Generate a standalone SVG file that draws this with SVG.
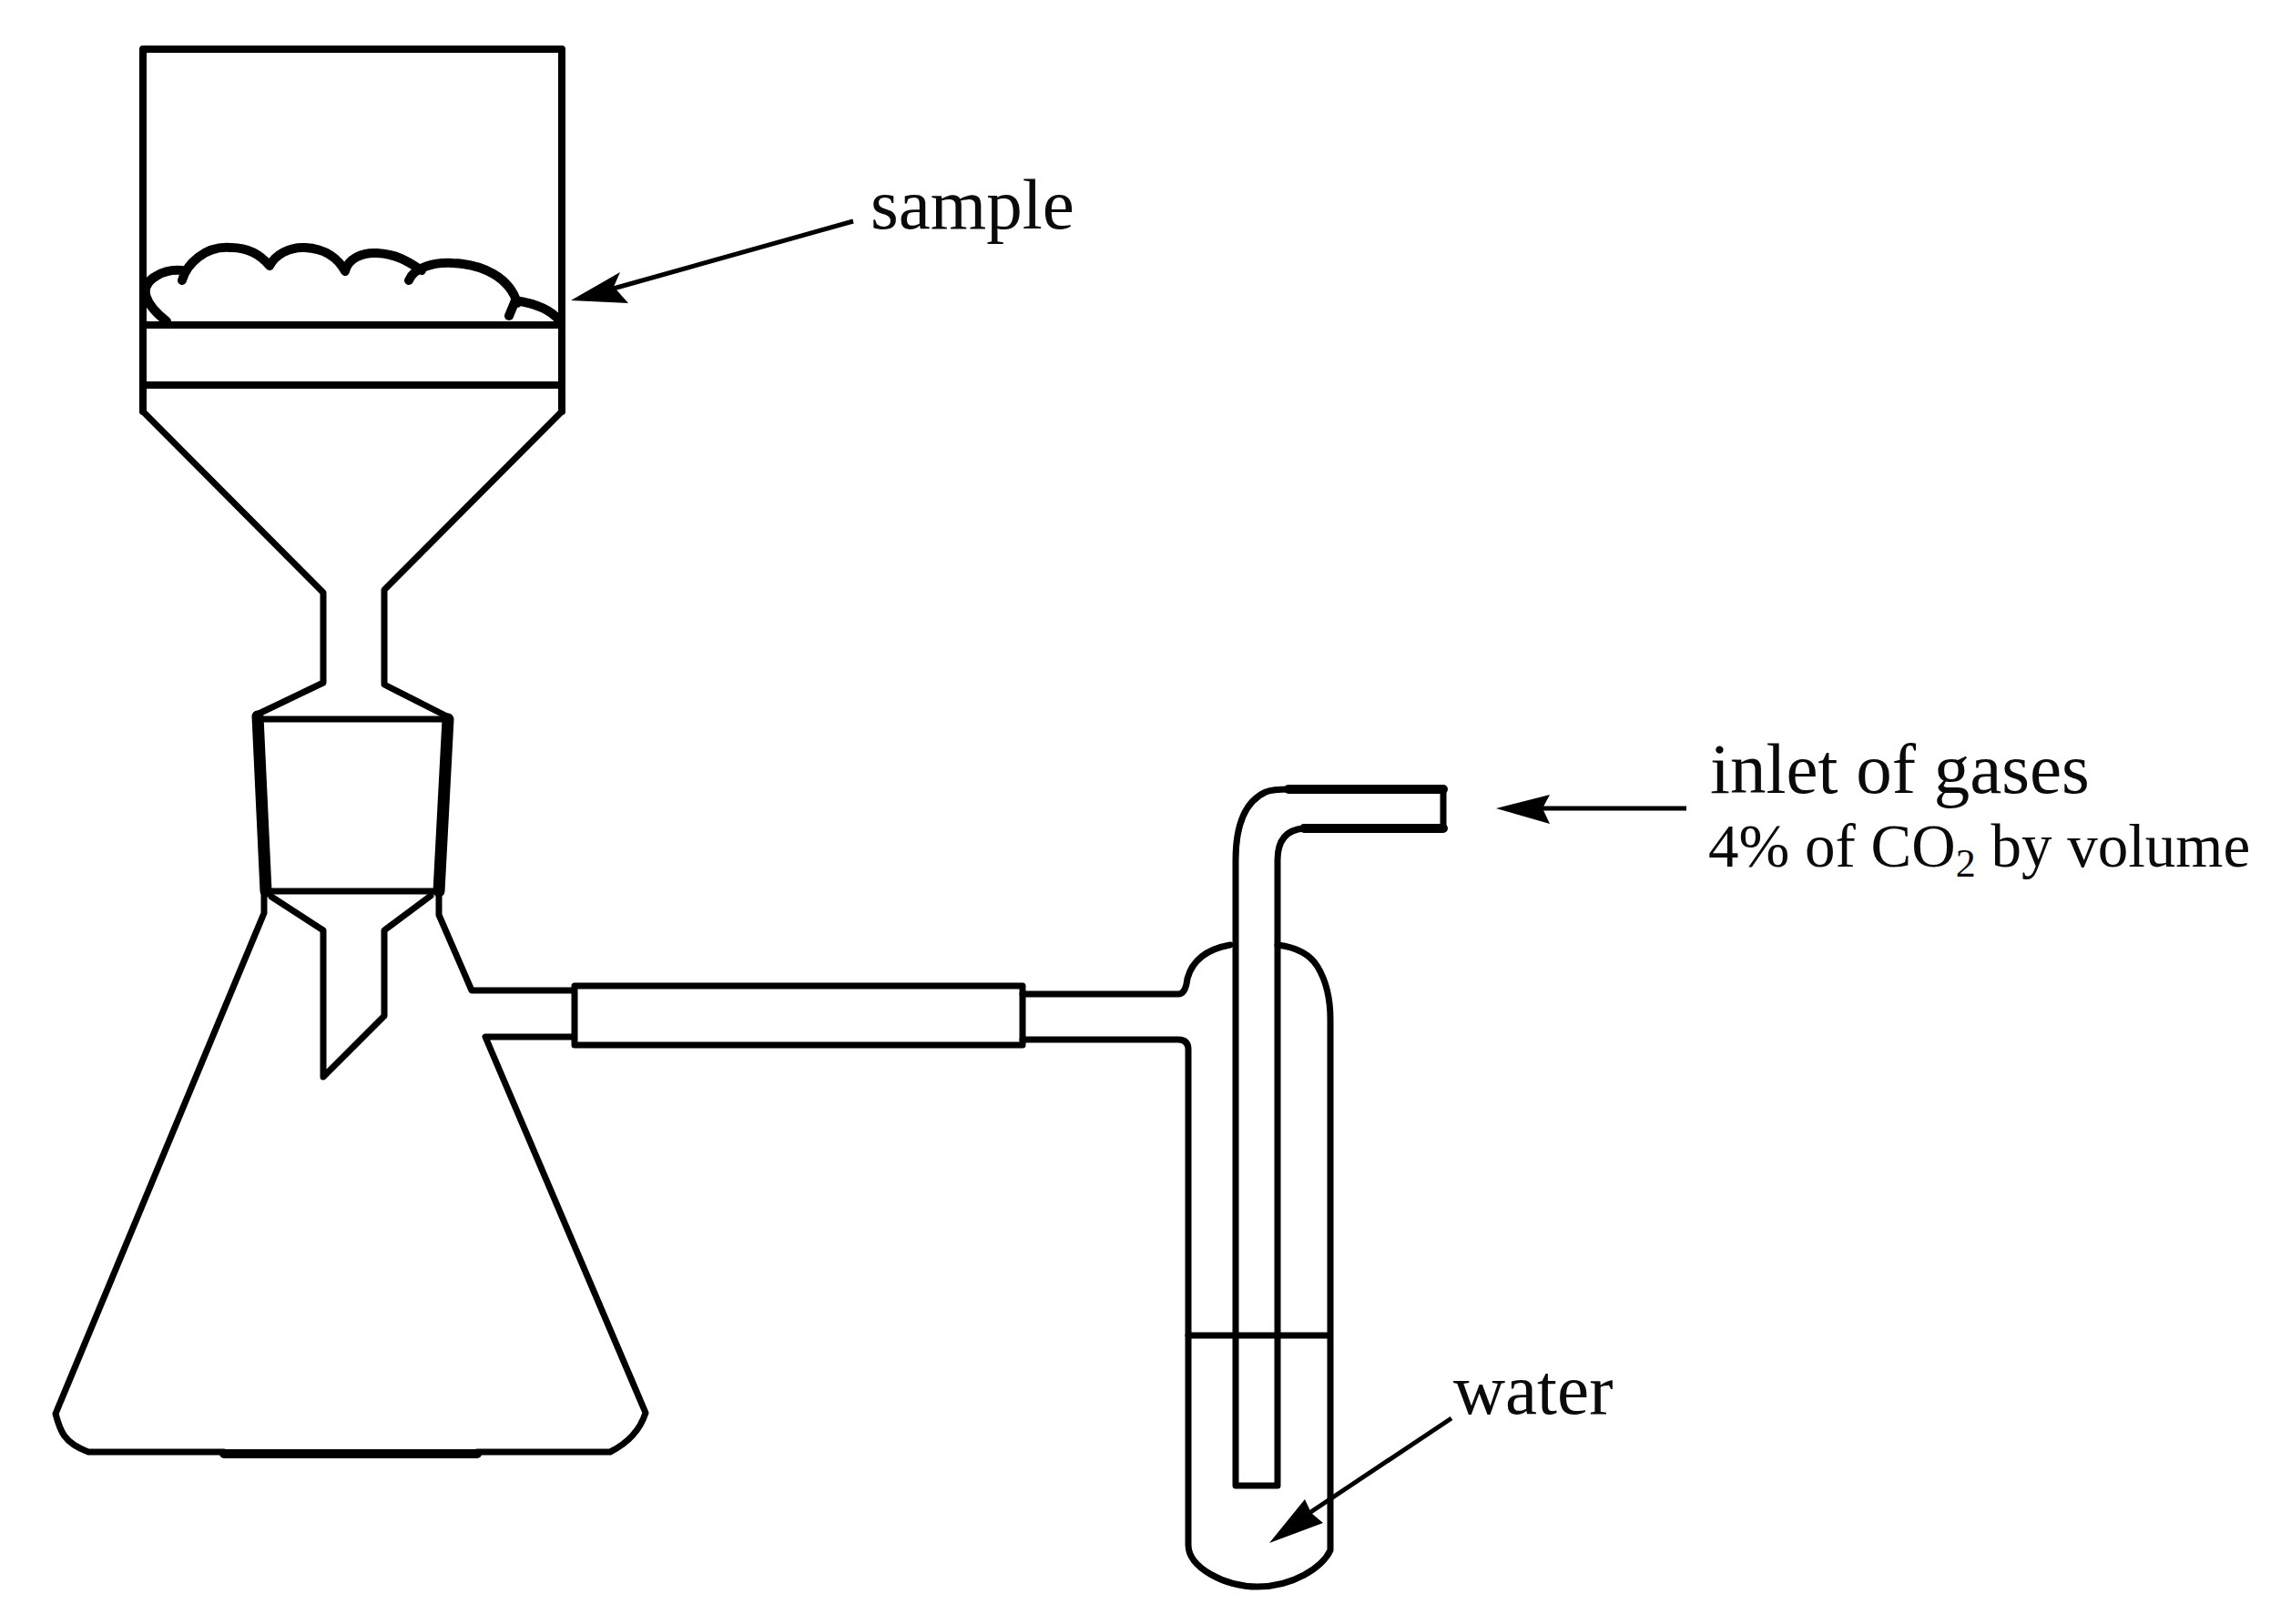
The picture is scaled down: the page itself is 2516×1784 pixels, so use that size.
<svg xmlns="http://www.w3.org/2000/svg" width="2516" height="1784" viewBox="0 0 2516 1784">
<style>
.l{fill:none;stroke:#000;stroke-width:7;stroke-linejoin:round;stroke-linecap:round}
.m{stroke-width:8}
.t{stroke-width:13}
.c{stroke-width:10}
.a{fill:none;stroke:#000;stroke-width:5}
.h{fill:#000;stroke:none}
text{font-family:"Liberation Serif","Times New Roman",serif;fill:#0a0a0a}
.big{font-size:79px}
.sm{font-size:67px}
</style>
<rect width="2516" height="1784" fill="#fff"/>
<g id="funnel">
<path class="l m" d="M157 452V54H617V452M157 357H617M157 423H617"/>
<path class="l" d="M157 452L355 651V750L282 785M617 452L422 648V752L493 788"/>
<path class="l" d="M282 790H493"/>
<path class="l" d="M298 985L355 1022V1183L422 1116V1022L473 984"/>
</g>
<g id="sample-powder">
<path class="l c" d="M183 353C160 335 150 315 172 303C180 298 190 296 200 297M200 308C205 290 225 270 253 272C275 272 288 282 296 292C302 280 318 271 335 272C358 273 372 285 379 298C382 284 398 277 414 278C438 279 452 290 463 297M449 308C455 293 478 288 497 289C530 290 560 305 568 333M559 347L566 330C585 333 605 340 614 352"/>
</g>
<g id="flask">
<path class="l t" d="M283 787L292 979M492 790L482 979"/>
<path class="l" d="M296 979H478"/>
<path class="l" d="M290 979V1003L61 1553C66 1572 70 1585 97 1595H246M524 1595H670Q700 1580 709 1552L533 1139H630M482 979V1005L518 1088H628"/>
<path class="l c" d="M246 1597H524"/>
</g>
<g id="sleeve">
<rect class="l" x="631" y="1083" width="492" height="65"/>
</g>
<g id="wash-bottle">
<path class="l" d="M1123 1092H1294Q1302 1092 1304 1075Q1312 1045 1351 1038M1403 1038Q1435 1042 1447 1062Q1461 1085 1461 1120V1703C1452 1722 1420 1743 1381 1743C1345 1743 1305 1722 1305 1697V1153Q1305 1142 1294 1142H1123"/>
<path class="l" d="M1305 1467H1460"/>
<path class="l" d="M1585 867V910H1432Q1403 912 1403 945V1632H1357V945Q1357 885 1390 870Q1398 867 1415 867H1585"/>
<path class="l c" d="M1415 867H1585M1432 910H1585"/>
</g>
<g id="connectors">
<path class="a" d="M937 243L670 318"/>
<polygon class="h" points="627,330 681,299 674,315 690,333"/>
<path class="a" d="M1852 888H1690"/>
<polygon class="h" points="1643,888 1702,873 1694,888 1702,905"/>
<path class="a" d="M1594 1558L1435 1664"/>
<polygon class="h" points="1394,1695 1433,1647 1440,1662 1453,1673"/>
</g>
<g id="label-sample"><text class="big" x="956" y="251">sample</text></g>
<g id="label-inlet"><text class="big" x="1878" y="871">inlet of gases</text></g>
<g id="label-co2"><text class="sm" x="1876" y="952">4% of CO<tspan font-size="44" dy="11">2</tspan><tspan dy="-11"> by volume</tspan></text></g>
<g id="label-water"><text class="big" x="1596" y="1553">water</text></g>
</svg>
